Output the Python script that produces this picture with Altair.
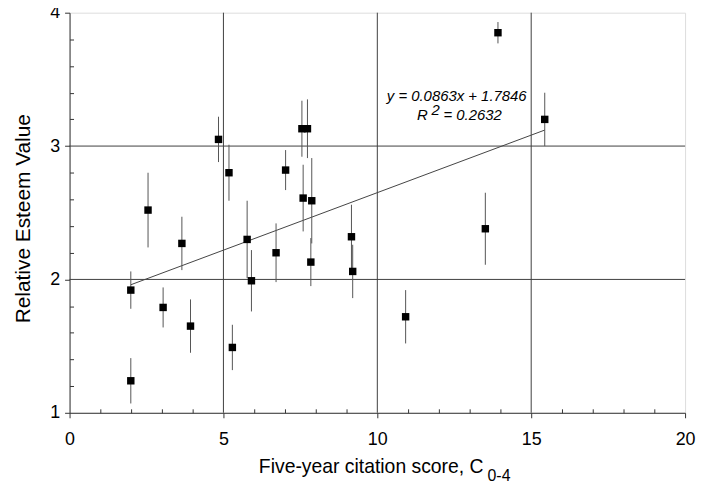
import altair as alt
import pandas as pd

# ---- data ----
x_vals = [1.99, 1.99, 2.55, 3.04, 3.65, 3.93, 4.84, 5.18, 5.29, 5.77, 5.91, 6.71,
          7.02, 7.55, 7.73, 7.59, 7.87, 7.84, 9.16, 9.20, 10.92, 13.51, 13.92, 15.44]
y_vals = [1.92, 1.24, 2.52, 1.79, 2.27, 1.65, 3.05, 2.80, 1.49, 2.30, 1.99, 2.20,
          2.82, 3.13, 3.13, 2.61, 2.59, 2.13, 2.32, 2.06, 1.72, 2.38, 3.85, 3.20]
y_err = [0.14, 0.17, 0.28, 0.15, 0.20, 0.20, 0.17, 0.21, 0.17, 0.29, 0.23, 0.22,
         0.15, 0.21, 0.22, 0.25, 0.32, 0.18, 0.24, 0.20, 0.20, 0.27, 0.08, 0.20]

trend_x = [1.99, 15.44]
trend_y = [1.96, 3.12]

x_major = [0, 5, 10, 15, 20]
y_major = [1, 2, 3, 4]
x_minor = [1, 2, 3, 4, 6, 7, 8, 9, 11, 12, 13, 14, 16, 17, 18, 19]
y_minor = [1.2, 1.4, 1.6, 1.8, 2.2, 2.4, 2.6, 2.8, 3.2, 3.4, 3.6, 3.8]
x_grid = [5, 10, 15]
y_grid = [2, 3]

eq_text = "y = 0.0863x + 1.7846"
r2_label = "R"
r2_sup = "2"
r2_value = "= 0.2632"

FONT = "Liberation Sans"

pts = pd.DataFrame({
    "x": x_vals,
    "y": y_vals,
    "lo": [a - e for a, e in zip(y_vals, y_err)],
    "hi": [a + e for a, e in zip(y_vals, y_err)],
})
trend = pd.DataFrame({"x": trend_x, "y": trend_y})
xg = pd.DataFrame({"g": x_grid})
yg = pd.DataFrame({"g": y_grid})

xs = alt.Scale(domain=[0, 20], nice=False, zero=False)
ys = alt.Scale(domain=[1, 4], nice=False, zero=False)

grid_x = alt.Chart(xg).mark_rule(color="#404040", strokeWidth=1).encode(
    x=alt.X("g:Q", scale=xs, axis=None))
grid_y = alt.Chart(yg).mark_rule(color="#404040", strokeWidth=1).encode(
    y=alt.Y("g:Q", scale=ys, axis=None))

trend_line = alt.Chart(trend).mark_line(color="#444444", strokeWidth=1).encode(
    x=alt.X("x:Q", scale=xs, axis=None),
    y=alt.Y("y:Q", scale=ys, axis=None))

# error bars carry the minor (inside) tick axes
errbars = alt.Chart(pts).mark_rule(color="#555555", strokeWidth=1).encode(
    x=alt.X("x:Q", scale=xs, axis=alt.Axis(
        orient="bottom", values=x_minor, labels=False, domain=False, grid=False,
        tickSize=4, offset=-4, tickColor="#333333", title=None)),
    y=alt.Y("lo:Q", scale=ys, axis=alt.Axis(
        orient="left", values=y_minor, labels=False, domain=False, grid=False,
        tickSize=4, offset=-4, tickColor="#333333", title=None)),
    y2="hi:Q")

points = alt.Chart(pts).mark_square(color="black", size=56, opacity=1).encode(
    x=alt.X("x:Q", scale=xs, axis=alt.Axis(
        orient="bottom", values=x_major, tickSize=5, labelFontSize=18,
        labelPadding=13, labelColor="black", labelFlush=False, grid=False,
        domainColor="#333333", tickColor="#333333", title=None, labelFont=FONT)),
    y=alt.Y("y:Q", scale=ys, axis=alt.Axis(
        orient="left", values=y_major, tickSize=5, labelFontSize=18,
        labelPadding=5, labelColor="black", labelFlush=False, grid=False,
        domainColor="#333333", tickColor="#333333",
        title="Relative Esteem Value", titleFontSize=21, titleFontWeight="normal",
        titleColor="black", titlePadding=16, titleFont=FONT, titleY=207,
        labelFont=FONT)))

ann_style = dict(font=FONT, fontSize=15, fontStyle="italic", color="black")


def ann(text, xv, yv, align):
    return alt.Chart(pd.DataFrame({"t": [text]})).mark_text(
        align=align, baseline="alphabetic", **ann_style).encode(
        x=alt.XDatum(xv, scale=xs, axis=None),
        y=alt.YDatum(yv, scale=ys, axis=None),
        text="t:N")


eq = ann(eq_text, 12.58, 3.34, "center")
r2a = ann(r2_label, 11.29, 3.193, "left")
r2b = ann(r2_sup, 11.76, 3.235, "left")
r2c = ann(r2_value, 12.15, 3.193, "left")

xtitle = alt.Chart(pd.DataFrame({"t": ["Five-year citation score, C"]})).mark_text(
    align="right", baseline="alphabetic", font=FONT, fontSize=19.5, color="black").encode(
    x=alt.value(417), y=alt.value(464), text="t:N")
xsub = alt.Chart(pd.DataFrame({"t": ["0-4"]})).mark_text(
    align="left", baseline="alphabetic", font=FONT, fontSize=16, color="black").encode(
    x=alt.value(421), y=alt.value(472), text="t:N")

chart = alt.layer(
    grid_x, grid_y, trend_line, errbars, points, eq, r2a, r2b, r2c, xtitle, xsub
).resolve_axis(x="independent", y="independent").properties(
    width=620, height=403,
    padding={"left": 62, "top": 3, "right": 11, "bottom": 72},
    autosize=alt.AutoSizeParams(type="none"),
).configure_view(
    stroke="#9a9a9a", strokeDash=[3, 2], strokeWidth=1
).configure(font=FONT, background="white")

chart.save("out.html", embed_options={"renderer": "svg", "actions": False})
